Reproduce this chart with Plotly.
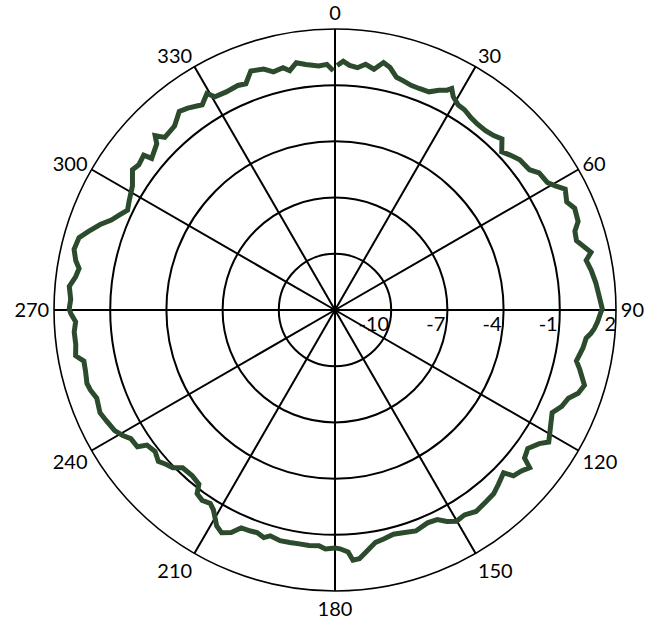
import plotly.graph_objects as go

# Angle (degrees, clockwise from top) and level (dB)
theta_deg = [
    0.5, 1.9, 3.4, 5.3, 7.1, 9.2, 11.1, 12.8, 14.8, 16.5, 18.7, 20.8, 23.3, 25.3, 27.0, 27.8,
    29.0, 31.0, 32.9, 35.3, 37.5, 40.0, 42.3, 44.3, 46.5, 48.5, 50.9, 54.2, 56.1, 59.0, 60.6,
    62.3, 65.0, 67.0, 70.0, 71.8, 74.0, 77.3, 78.8, 81.2, 84.1, 87.0, 89.8,
    90.5, 92.6, 94.1, 95.2, 96.4, 98.7, 101.9, 103.6, 106.8, 108.9, 110.7, 113.0, 115.3,
    118.2, 121.7, 123.2, 125.7, 128.0, 129.0, 130.8, 132.9, 134.0, 136.8, 139.2, 141.8,
    145.0, 147.7, 150.1, 152.1, 154.0, 156.5, 159.9, 162.6, 165.4, 168.0, 170.1, 172.3,
    174.4, 175.9, 176.9, 178.8,
    180.0, 182.3, 183.9, 186.3, 188.7, 191.0, 193.4, 196.0, 197.4, 199.3, 200.9, 203.3,
    205.0, 207.0, 208.7, 211.3, 212.8, 214.9, 216.9, 218.0, 220.7, 224.0, 225.8, 227.5,
    229.4, 231.8, 234.3, 235.3, 237.8, 239.4, 241.3, 244.1, 246.4, 249.7, 251.9, 253.5,
    256.3, 258.5, 260.0, 262.4, 265.2, 267.4, 269.2,
    270.2, 272.3, 275.1, 277.3, 279.2, 280.8, 283.1, 285.8, 287.7, 290.0, 291.9, 293.8,
    295.7, 298.0, 301.5, 304.7, 306.5, 309.0, 309.6, 313.0, 314.1, 315.4, 318.9, 321.9,
    323.9, 327.1, 329.4, 330.6, 333.5, 336.6, 338.5, 340.6, 343.5, 345.5, 347.9, 349.3,
    351.1, 353.2, 356.2, 358.1, 359.6,
]
level_db = [
    0.05, 0.29, 0.08, -0.01, 0.22, 0.02, 0.46, 0.27, -0.15, -0.23, -0.34, -0.35, -0.32, -0.02, 0.17, 0.36,
    0.02, -0.23, -0.27, -0.43, -0.50, -0.50, -0.41, -0.24, -0.73, -0.52, -0.29, -0.20, 0.13, 0.22, 0.50,
    0.88, 0.65, 0.90, 0.81, 0.48, 0.41, 1.01, 0.67, 0.84, 1.00, 1.12, 1.27,
    1.19, 1.03, 0.88, 0.72, 0.49, 0.39, 0.17, 0.44, 0.91, 0.72, 0.32, 0.15, -0.18,
    0.06, 0.41, 0.03, -0.33, -0.16, 0.37, 0.15, 0.00, -0.49, -0.25, -0.04, 0.03,
    0.13, -0.06, 0.01, -0.23, -0.55, -0.61, -0.44, -0.55, -0.63, -0.50, -0.41, -0.04,
    0.34, 0.39, -0.06, -0.25,
    -0.30, -0.23, -0.39, -0.35, -0.37, -0.36, -0.34, -0.46, -0.27, -0.41, -0.37, -0.34,
    0.11, 0.34, 0.15, -0.51, -0.71, -0.61, -0.74, -1.20, -1.32, -1.29, -0.92, -0.79,
    -0.58, -0.78, -0.64, -0.17, -0.12, 0.16, 0.41, 0.56, 0.69, 0.56, 0.74, 0.81,
    0.71, 0.68, 1.06, 0.96, 0.97, 0.86, 1.10,
    1.19, 1.12, 1.24, 0.96, 0.84, 1.09, 1.30, 1.20, 0.81, 0.34, -0.13, -0.43,
    -0.71, -0.56, -0.32, 0.15, 0.03, 0.14, -0.30, 0.01, 0.37, -0.06, 0.03, 0.47,
    0.34, 0.05, 0.43, 0.06, 0.01, 0.06, -0.02, 0.53, 0.41, 0.13, 0.23, 0.00,
    0.36, 0.20, 0.06, 0.12, -0.23,
]

angular_ticks = [0, 30, 60, 90, 120, 150, 180, 210, 240, 270, 300, 330]
radial_ticks = [-10, -7, -4, -1, 2]
radial_range = [-13, 2]

FIG = "\u2007"
radial_text = [f"{v}" + FIG * len(str(v)) for v in radial_ticks]

W, H = 668, 619
CX, CY, R = 335, 310, 281  # circle centre / radius (px from top-left)

fig = go.Figure()
fig.add_trace(go.Scatterpolar(
    r=level_db, theta=theta_deg, mode="lines",
    line=dict(color="#2c4a2c", width=5),
    hoverinfo="skip", showlegend=False,
))

font = dict(family="Lato", size=20, color="black")
fig.update_layout(
    width=W, height=H,
    margin=dict(l=0, r=0, t=0, b=0),
    paper_bgcolor="white",
    font=font,
    showlegend=False,
    polar=dict(
        domain=dict(x=[(CX - R) / W, (CX + R) / W],
                    y=[(H - CY - R) / H, (H - CY + R) / H]),
        bgcolor="white",
        angularaxis=dict(
            rotation=90, direction="clockwise",
            tickmode="array", tickvals=angular_ticks,
            ticktext=[str(t) for t in angular_ticks],
            showline=True, linecolor="black", linewidth=1.6,
            showgrid=True, gridcolor="black", gridwidth=1.6,
            ticks="", tickfont=font,
        ),
        radialaxis=dict(
            range=radial_range, angle=0,
            tickmode="array", tickvals=radial_ticks, ticktext=radial_text,
            showline=False, showgrid=True, gridcolor="black", gridwidth=1.6,
            ticks="", tickfont=font,
        ),
    ),
)

fig.write_html("out.html", config={"displayModeBar": False},
               post_script="document.body.style.margin='0';")
